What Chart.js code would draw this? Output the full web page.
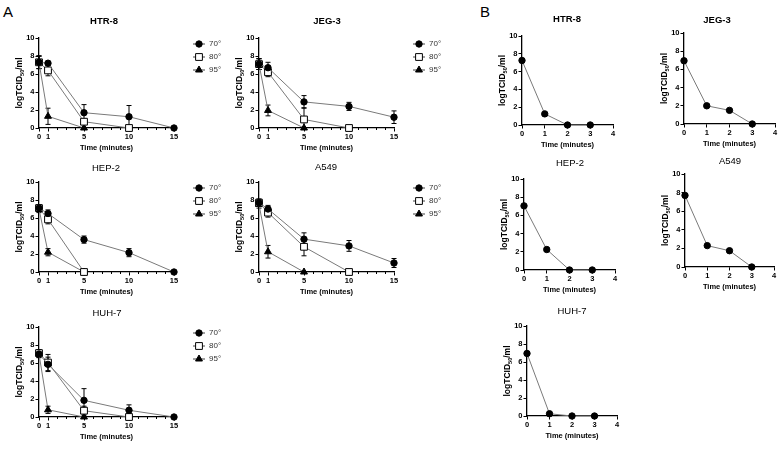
<!DOCTYPE html>
<html><head><meta charset="utf-8">
<script src="https://cdn.jsdelivr.net/npm/chart.js@4.4.0/dist/chart.umd.min.js"></script>
<style>
html,body{margin:0;padding:0;background:#fff;}
#wrap{position:relative;width:779px;height:450px;overflow:hidden;font-family:"Liberation Sans",Arial,sans-serif;}
canvas{position:absolute;}
.lbl{position:absolute;font-size:15px;line-height:15px;color:#000;}
</style></head><body>
<div id="wrap">
<div class="lbl" style="left:3px;top:4px">A</div>
<div class="lbl" style="left:480px;top:4px">B</div>
</div>
<script>
// ---------- data ----------
const seriesLabels = ['70°', '80°', '95°'];
const timesA = [0, 1, 5, 10, 15];
const timesB = [0, 1, 2, 3];
const xTicksA = [0, 1, 5, 10, 15];
const xMinorA = [2, 3, 4, 6, 7, 8, 9, 11, 12, 13, 14];
const xTicksB = [0, 1, 2, 3, 4];
const yTicks = [0, 2, 4, 6, 8, 10];

// Panel A (70°, 80°, 95°) means and error
const htr8_70 = [7.3, 7.2, 1.7, 1.25, 0];
const htr8_70_err = [0.7, 0.2, 0.9, 1.25, 0];
const htr8_80 = [7.3, 6.4, 0.7, 0, null];
const htr8_80_err = [0.7, 0.6, 0.3, 0, null];
const htr8_95 = [7.3, 1.3, 0, null, null];
const htr8_95_err = [0.7, 0.9, 0, null, null];

const jeg3_70 = [7.1, 6.7, 2.9, 2.4, 1.2];
const jeg3_70_err = [0.6, 0.6, 0.7, 0.45, 0.7];
const jeg3_80 = [7.1, 6.2, 0.95, 0, null];
const jeg3_80_err = [0.6, 0.5, 1.3, 0, null];
const jeg3_95 = [7.1, 1.95, 0, null, null];
const jeg3_95_err = [0.6, 0.6, 0, null, null];

const hep2_70 = [7.1, 6.5, 3.6, 2.15, 0];
const hep2_70_err = [0.4, 0.4, 0.4, 0.45, 0];
const hep2_80 = [7.1, 5.85, 0, null, null];
const hep2_80_err = [0.4, 0.5, 0, null, null];
const hep2_95 = [7.0, 2.2, 0, null, null];
const hep2_95_err = [0.4, 0.4, 0, null, null];

const a549_70 = [7.7, 7.0, 3.65, 2.9, 1.0];
const a549_70_err = [0.4, 0.4, 0.7, 0.6, 0.5];
const a549_80 = [7.7, 6.6, 2.8, 0, null];
const a549_80_err = [0.4, 0.5, 1.0, 0, null];
const a549_95 = [7.5, 2.25, 0, null, null];
const a549_95_err = [0.4, 0.7, 0, null, null];

const huh7_70 = [7.0, 5.85, 1.85, 0.75, 0];
const huh7_70_err = [0.4, 0.8, 1.3, 0.6, 0];
const huh7_80 = [7.1, 6.05, 0.7, 0, null];
const huh7_80_err = [0.4, 0.9, 0.5, 0, null];
const huh7_95 = [7.0, 0.8, 0, null, null];
const huh7_95_err = [0.4, 0.4, 0, null, null];

// Panel B
const bHtr8 = [7.25, 1.25, 0, 0];
const bJeg3 = [6.95, 2.0, 1.5, 0];
const bHep2 = [7.05, 2.25, 0, 0];
const bA549 = [7.7, 2.3, 1.75, 0];
const bHuh7 = [6.95, 0.25, 0, 0];

// ---------- styles ----------
const FONT = '"Liberation Sans", Arial, sans-serif';
const markerStyles = [
  {pointStyle: 'circle', radius: 3.2, bg: '#000'},
  {pointStyle: 'rect', radius: 4.8, bg: '#fff'},
  {pointStyle: 'triangle', radius: 4, bg: '#000'}
];
const LINE_COLOR = '#7a7a7a';

function pts(times, vals) {
  const out = [];
  times.forEach((t, i) => { if (vals[i] !== null && vals[i] !== undefined) out.push({x: t, y: vals[i]}); });
  return out;
}

function drawMarker(ctx, style, x, y) {
  ctx.save();
  ctx.fillStyle = style.bg; ctx.strokeStyle = '#000'; ctx.lineWidth = 1;
  ctx.beginPath();
  const r = style.radius;
  if (style.pointStyle === 'circle') {
    ctx.arc(x, y, r, 0, Math.PI * 2);
  } else if (style.pointStyle === 'rect') {
    const s = Math.SQRT1_2 * r;
    ctx.rect(x - s, y - s, 2 * s, 2 * s);
  } else {
    ctx.moveTo(x, y - r);
    ctx.lineTo(x + r * 0.866, y + r * 0.5);
    ctx.lineTo(x - r * 0.866, y + r * 0.5);
    ctx.closePath();
  }
  ctx.fill(); ctx.stroke();
  ctx.restore();
}

const wrap = document.getElementById('wrap');

function makePanel(cfg) {
  const [L, T, R, B] = cfg.area;
  const padL = 44, padT = 28, padB = 30, padR = cfg.legend ? 75 : 14;
  const Wy = 20, Hx = 12;
  const x0 = L - padL, y0 = T - padT;
  const w = (R - L) + padL + padR, h = (B - T) + padT + padB;
  const cv = document.createElement('canvas');
  cv.width = w; cv.height = h;
  cv.style.left = x0 + 'px'; cv.style.top = y0 + 'px';
  cv.style.width = w + 'px'; cv.style.height = h + 'px';
  wrap.appendChild(cv);

  const datasets = cfg.series.map((s, i) => {
    const st = markerStyles[cfg.single ? 0 : i];
    return {
      label: cfg.single ? '' : seriesLabels[i],
      data: pts(cfg.times, s.vals),
      errs: s.errs ? s.errs.filter(v => v !== null) : null,
      borderColor: LINE_COLOR,
      borderWidth: 1,
      pointStyle: st.pointStyle,
      pointRadius: st.radius,
      pointBackgroundColor: st.bg,
      pointBorderColor: '#000',
      pointBorderWidth: 1,
      tension: 0,
      clip: false,
      fill: false
    };
  });

  const decor = {
    id: 'decor',
    beforeDatasetsDraw(chart) {
      const ctx = chart.ctx, ys = chart.scales.y;
      ctx.save();
      ctx.strokeStyle = '#000'; ctx.lineWidth = 1;
      chart.data.datasets.forEach((ds, di) => {
        if (!ds.errs) return;
        const meta = chart.getDatasetMeta(di);
        ds.data.forEach((p, i) => {
          const e = ds.errs[i];
          if (!e) return;
          const px = meta.data[i].x;
          const yt = ys.getPixelForValue(p.y + e), yb = ys.getPixelForValue(Math.max(0, p.y - e));
          ctx.beginPath();
          ctx.moveTo(px, yt); ctx.lineTo(px, yb);
          ctx.moveTo(px - 2.5, yt); ctx.lineTo(px + 2.5, yt);
          if (p.y - e > 0) { ctx.moveTo(px - 2.5, yb); ctx.lineTo(px + 2.5, yb); }
          ctx.stroke();
        });
      });
      ctx.restore();
    },
    afterDraw(chart) {
      const ctx = chart.ctx, ca = chart.chartArea;
      const xs = chart.scales.x;
      ctx.save();
      if (cfg.minor) {
        ctx.strokeStyle = '#000'; ctx.lineWidth = 1;
        cfg.minor.forEach(v => {
          const px = Math.round(xs.getPixelForValue(v)) + 0.5;
          ctx.beginPath(); ctx.moveTo(px, ca.bottom); ctx.lineTo(px, ca.bottom + 2); ctx.stroke();
        });
      }
      ctx.fillStyle = '#000';
      ctx.font = (cfg.titleBold ? 'bold ' : '') + '9.5px ' + FONT;
      ctx.textAlign = 'center'; ctx.textBaseline = 'middle';
      ctx.fillText(cfg.title, cfg.titlePos[0] - x0, cfg.titlePos[1] - y0);
      ctx.font = 'bold 7.5px ' + FONT;
      ctx.fillText('Time (minutes)', (ca.left + ca.right) / 2, ca.bottom + 20);
      const cx = ca.left - 19, cy = (ca.top + ca.bottom) / 2;
      ctx.translate(cx, cy); ctx.rotate(-Math.PI / 2);
      const fMain = 'bold 8.5px ' + FONT, fSub = 'bold 5.5px ' + FONT;
      ctx.font = fMain; const w1 = ctx.measureText('logTCID').width, w3 = ctx.measureText('/ml').width;
      ctx.font = fSub; const w2 = ctx.measureText('50').width;
      let tx = -(w1 + w2 + w3) / 2;
      ctx.textAlign = 'left';
      ctx.font = fMain; ctx.fillText('logTCID', tx, 0); tx += w1;
      ctx.font = fSub; ctx.fillText('50', tx, 2.5); tx += w2;
      ctx.font = fMain; ctx.fillText('/ml', tx, 0);
      ctx.setTransform(1, 0, 0, 1, 0, 0);
      if (cfg.legend) {
        const mx = ca.right + 25;
        seriesLabels.forEach((lab, i) => {
          const ly = ca.top + 6 + i * 13;
          ctx.strokeStyle = '#444'; ctx.lineWidth = 1;
          ctx.beginPath(); ctx.moveTo(mx - 6, ly); ctx.lineTo(mx + 6, ly); ctx.stroke();
          drawMarker(ctx, markerStyles[i], mx, ly);
          ctx.fillStyle = '#333';
          ctx.font = '8px ' + FONT; ctx.textAlign = 'left'; ctx.textBaseline = 'middle';
          ctx.fillText(lab, mx + 10, ly);
        });
      }
      ctx.restore();
    }
  };

  new Chart(cv, {
    type: 'line',
    data: {datasets},
    options: {
      responsive: false,
      animation: false,
      layout: {padding: {left: padL - Wy, top: padT, right: padR, bottom: padB - Hx}},
      plugins: {legend: {display: false}, tooltip: {enabled: false}},
      scales: {
        x: {
          type: 'linear', min: 0, max: cfg.xmax,
          afterBuildTicks: s => { s.ticks = cfg.xticks.map(v => ({value: v})); },
          afterFit: s => { s.height = Hx; },
          ticks: {autoSkip: false, maxRotation: 0, padding: 1, color: '#000',
                  font: {family: FONT, size: 7.5, weight: 'bold'}, callback: v => String(v)},
          grid: {display: true, drawOnChartArea: false, tickLength: 3.5, tickColor: '#000', tickWidth: 1},
          border: {display: true, color: '#000', width: 1.3}
        },
        y: {
          min: 0, max: 10,
          afterBuildTicks: s => { s.ticks = yTicks.map(v => ({value: v})); },
          afterFit: s => { s.width = Wy; },
          ticks: {padding: 1, color: '#000', font: {family: FONT, size: 7.5, weight: 'bold'}, callback: v => String(v)},
          grid: {display: true, drawOnChartArea: false, tickLength: 3.5, tickColor: '#000', tickWidth: 1},
          border: {display: true, color: '#000', width: 1.3}
        }
      }
    },
    plugins: [decor]
  });
}

const panelsA = [
  {title: 'HTR-8', titleBold: true, titlePos: [104, 21], area: [39, 38, 174, 128],
   series: [{vals: htr8_70, errs: htr8_70_err}, {vals: htr8_80, errs: htr8_80_err}, {vals: htr8_95, errs: htr8_95_err}]},
  {title: 'JEG-3', titleBold: true, titlePos: [327, 21], area: [259, 38, 394, 128],
   series: [{vals: jeg3_70, errs: jeg3_70_err}, {vals: jeg3_80, errs: jeg3_80_err}, {vals: jeg3_95, errs: jeg3_95_err}]},
  {title: 'HEP-2', titleBold: false, titlePos: [106, 168], area: [39, 182, 174, 272],
   series: [{vals: hep2_70, errs: hep2_70_err}, {vals: hep2_80, errs: hep2_80_err}, {vals: hep2_95, errs: hep2_95_err}]},
  {title: 'A549', titleBold: false, titlePos: [326, 167], area: [259, 182, 394, 272],
   series: [{vals: a549_70, errs: a549_70_err}, {vals: a549_80, errs: a549_80_err}, {vals: a549_95, errs: a549_95_err}]},
  {title: 'HUH-7', titleBold: false, titlePos: [107, 313], area: [39, 327, 174, 417],
   series: [{vals: huh7_70, errs: huh7_70_err}, {vals: huh7_80, errs: huh7_80_err}, {vals: huh7_95, errs: huh7_95_err}]}
];
panelsA.forEach(p => makePanel(Object.assign({times: timesA, xmax: 15, xticks: xTicksA, minor: xMinorA, legend: true}, p)));

const panelsB = [
  {title: 'HTR-8', titleBold: true, titlePos: [567, 19], area: [522, 36, 613, 125], vals: bHtr8},
  {title: 'JEG-3', titleBold: true, titlePos: [717, 20], area: [684, 33, 775, 124], vals: bJeg3},
  {title: 'HEP-2', titleBold: false, titlePos: [570, 163], area: [524, 179, 615, 270], vals: bHep2},
  {title: 'A549', titleBold: false, titlePos: [730, 161], area: [685, 174, 774, 267], vals: bA549},
  {title: 'HUH-7', titleBold: false, titlePos: [572, 311], area: [527, 326, 617, 416], vals: bHuh7}
];
panelsB.forEach(p => makePanel({title: p.title, titleBold: p.titleBold, titlePos: p.titlePos, area: p.area,
  times: timesB, xmax: 4, xticks: xTicksB, minor: null, legend: false, single: true,
  series: [{vals: p.vals, errs: null}]}));
</script>
</body></html>
